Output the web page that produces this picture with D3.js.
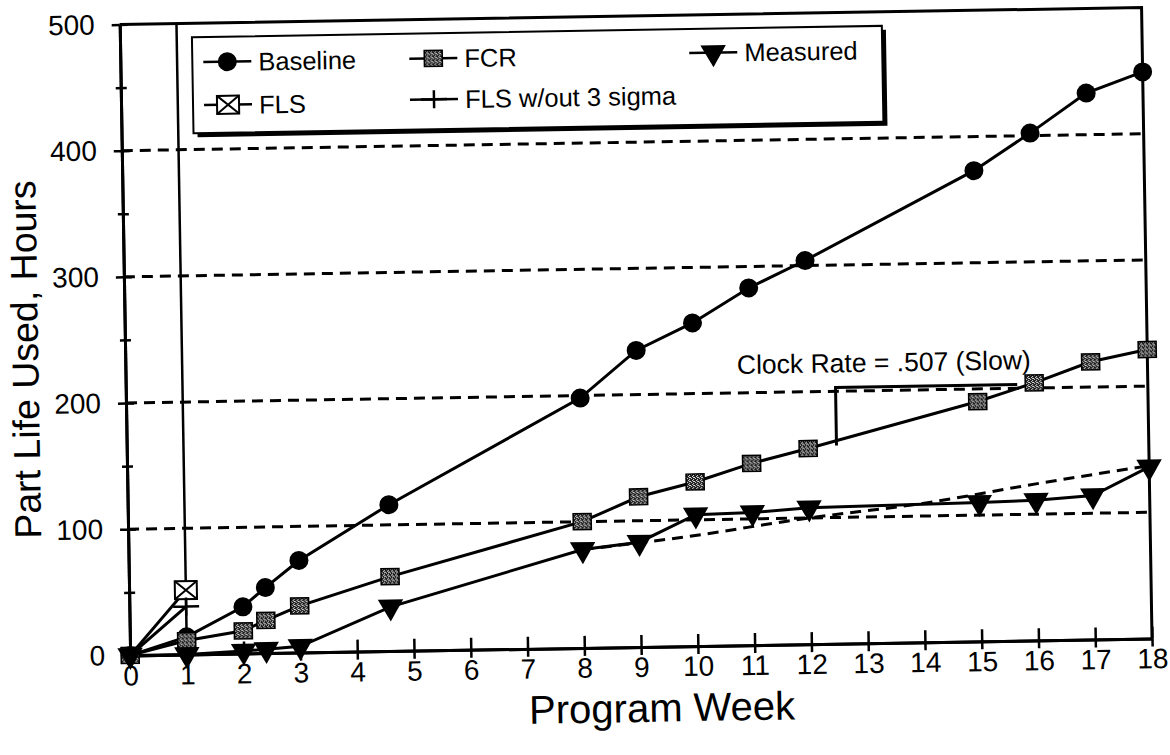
<!DOCTYPE html>
<html>
<head>
<meta charset="utf-8">
<script src="https://cdn.jsdelivr.net/npm/d3@7"></script>
<style>
  body { margin: 0; background: white; }
  svg text { font-family: "Liberation Sans", Arial, sans-serif; fill: black; }
</style>
</head>
<body>
<div id="visualization"></div>
<script>
let w = 1170;
let h = 755;

// values
let weeks    = [0, 1, 2, 2.4, 3, 4.6, 8, 9, 10, 11, 12, 15, 16, 17, 18];
let baseline = [0, 14, 37, 52, 73, 116, 198, 235, 256, 283, 304, 373, 402, 433, 449];
let fcr      = [0, 11, 18, 26, 37, 59, 100, 119, 130, 144, 155, 190, 204, 220, 229];
let measured = [0, 0, 2, 3, 5, 35, 78, 83, 104, 105, 108, 110, 111, 114, 136];

let flsWeeks   = [0, 1];
let fls        = [0, 51];
let flsNoSigma = [0, 38];

// dashed trend through the measured points
let trendWeeks = [8, 9.7, 12, 14, 16, 18];
let trend      = [78, 86, 100, 110, 124, 137];

// clock rate bracket
let clockWeeks  = [12.5, 12.5, 15.7];
let clockValues = [157, 203, 203];
let clockLabel = "Clock Rate = .507 (Slow)";

let xTicks = [0, 1, 2, 3, 4, 5, 6, 7, 8, 9, 10, 11, 12, 13, 14, 15, 16, 17, 18];
let yTicks = [0, 100, 200, 300, 400, 500];
let yMinorTicks = [50, 150, 250, 350, 450];
let gridValues = [100, 200, 300, 400];

let legendLabels = ["Baseline", "FCR", "Measured", "FLS", "FLS w/out 3 sigma"];

let svg = d3.select("#visualization")
  .append("svg")
  .attr("width", w)
  .attr("height", h)
  .style("background-color", "white");

// speckled fill for the FCR squares
let pat = svg.append("defs").append("pattern")
  .attr("id", "speckle")
  .attr("width", 4).attr("height", 4)
  .attr("patternUnits", "userSpaceOnUse");
pat.append("rect").attr("width", 4).attr("height", 4).attr("fill", "#1a1a1a");
[[0, 0], [2, 1], [1, 2], [3, 3], [2, 3]].forEach(p => {
  pat.append("rect").attr("x", p[0]).attr("y", p[1]).attr("width", 1).attr("height", 1).attr("fill", "#e8e8e8");
});

// the scanned page sits slightly tilted
let viz = svg.append("g").attr("transform", "rotate(-0.95, 635, 340)");

let xScale = d3.scaleLinear().domain([0, 18]).range([125, 1147]);
let yScale = d3.scaleLinear().domain([0, 500]).range([647, 16]);

// dashed gridlines
viz.selectAll(".grid").data(gridValues).enter()
  .append("line")
  .attr("class", "grid")
  .attr("x1", xScale(0)).attr("x2", xScale(18))
  .attr("y1", d => yScale(d)).attr("y2", d => yScale(d))
  .attr("stroke", "black")
  .attr("stroke-width", 3)
  .attr("stroke-dasharray", "11,7");

// frame top and right
viz.append("path")
  .attr("d", d3.line()([[xScale(0), yScale(500)], [xScale(18), yScale(500)], [xScale(18), yScale(0)]]))
  .attr("fill", "none")
  .attr("stroke", "black")
  .attr("stroke-width", 3);

function styleAxis(g, size) {
  g.attr("font-family", null);
  g.select(".domain").attr("stroke-width", 3);
  g.selectAll(".tick line").attr("stroke-width", 2.5);
  g.selectAll("text").attr("font-size", size);
}

// y axis, ticks cross the line
let yAxisGroup = viz.append("g").attr("transform", `translate(${xScale(0)},0)`);
yAxisGroup.call(d3.axisLeft(yScale).tickValues(yTicks).tickSize(8).tickSizeOuter(0).tickPadding(17));
styleAxis(yAxisGroup, 28);
viz.append("g").attr("transform", `translate(${xScale(0)},0)`)
  .call(d3.axisRight(yScale).tickValues(yTicks).tickSize(8).tickSizeOuter(0).tickFormat(""))
  .call(g => styleAxis(g, 28));
viz.append("g").attr("transform", `translate(${xScale(0) - 5},0)`)
  .call(d3.axisRight(yScale).tickValues(yMinorTicks).tickSize(11).tickSizeOuter(0).tickFormat(""))
  .call(g => { g.select(".domain").remove(); g.selectAll("line").attr("stroke-width", 2.5); });

// x axis
let xAxisGroup = viz.append("g").attr("transform", `translate(0,${yScale(0)})`);
xAxisGroup.call(d3.axisBottom(xScale).tickValues(xTicks).tickSize(8).tickSizeOuter(0).tickPadding(2));
styleAxis(xAxisGroup, 28);
viz.append("g").attr("transform", `translate(0,${yScale(0)})`)
  .call(d3.axisTop(xScale).tickValues(xTicks).tickSize(12).tickSizeOuter(0).tickFormat(""))
  .call(g => styleAxis(g, 28));

// axis titles
viz.append("text")
  .attr("x", (xScale(0) + xScale(18)) / 2 + 20)
  .attr("y", 722)
  .attr("text-anchor", "middle")
  .attr("font-size", 40)
  .text("Program Week");

viz.append("text")
  .attr("transform", `translate(38,${(yScale(0) + yScale(500)) / 2 + 18}) rotate(-90)`)
  .attr("text-anchor", "middle")
  .attr("font-size", 37.5)
  .text("Part Life Used, Hours");

// week 1 drop line
viz.append("line")
  .attr("x1", xScale(1)).attr("x2", xScale(1))
  .attr("y1", yScale(0)).attr("y2", yScale(500))
  .attr("stroke", "black").attr("stroke-width", 2.5);

let line = d3.line().x(d => xScale(d[0])).y(d => yScale(d[1]));

function drawLine(xs, ys) {
  viz.append("path")
    .datum(d3.zip(xs, ys))
    .attr("d", line)
    .attr("fill", "none")
    .attr("stroke", "black")
    .attr("stroke-width", 3);
}

drawLine(flsWeeks, fls);
drawLine(flsWeeks, flsNoSigma);
drawLine(weeks, baseline);
drawLine(weeks, fcr);
drawLine(weeks, measured);
viz.append("path")
  .datum(d3.zip(trendWeeks, trend))
  .attr("d", d3.line().x(d => xScale(d[0])).y(d => yScale(d[1])).curve(d3.curveMonotoneX))
  .attr("fill", "none")
  .attr("stroke", "black")
  .attr("stroke-width", 3)
  .attr("stroke-dasharray", "11,7");
drawLine(clockWeeks, clockValues);

// markers
function circleMark(sel) {
  sel.append("circle").attr("r", 9.5).attr("fill", "black");
}
function squareMark(sel) {
  sel.append("rect").attr("x", -9).attr("y", -8).attr("width", 18).attr("height", 16)
    .attr("fill", "url(#speckle)").attr("stroke", "black").attr("stroke-width", 1.5);
}
function triangleMark(sel) {
  sel.append("path").attr("d", d3.symbol(d3.symbolTriangle, 280)())
    .attr("transform", "rotate(180)").attr("fill", "black");
}
function boxXMark(sel) {
  sel.append("rect").attr("x", -11).attr("y", -9).attr("width", 22).attr("height", 18)
    .attr("fill", "white").attr("stroke", "black").attr("stroke-width", 2);
  sel.append("path").attr("d", "M-11,-9L11,9M-11,9L11,-9").attr("stroke", "black").attr("stroke-width", 2);
}
function plusMark(sel) {
  sel.append("path").attr("d", "M-13,0H13M0,-9V9").attr("stroke", "black").attr("stroke-width", 2.5);
}

function drawMarks(xs, ys, fn) {
  viz.append("g").selectAll("g").data(d3.zip(xs, ys)).enter()
    .append("g")
    .attr("transform", d => `translate(${xScale(d[0])},${yScale(d[1])})`)
    .call(fn);
}

drawMarks(weeks, baseline, circleMark);
drawMarks(weeks, fcr, squareMark);
drawMarks(weeks, measured, triangleMark);
drawMarks(flsWeeks.slice(1), fls.slice(1), boxXMark);
drawMarks(flsWeeks.slice(1), flsNoSigma.slice(1), plusMark);

viz.append("text")
  .attr("x", xScale(10.77))
  .attr("y", yScale(215))
  .attr("font-size", 26.5)
  .text(clockLabel);

// legend
let legend = viz.append("g").attr("transform", "translate(197,30)");
legend.append("rect").attr("x", 4).attr("y", 4).attr("width", 690).attr("height", 96).attr("fill", "black");
legend.append("rect").attr("width", 690).attr("height", 96)
  .attr("fill", "white").attr("stroke", "black").attr("stroke-width", 2);

let legendPos = [[35, 25], [241, 25], [521, 24], [35, 68], [241, 66]];
let legendMarks = [circleMark, squareMark, triangleMark, boxXMark, plusMark];

let items = legend.selectAll(".item").data(legendLabels).enter()
  .append("g")
  .attr("class", "item")
  .attr("transform", (d, i) => `translate(${legendPos[i][0]},${legendPos[i][1]})`);
items.append("line").attr("x1", -24).attr("x2", 24)
  .attr("stroke", "black").attr("stroke-width", 2.5);
items.each(function(d, i) { d3.select(this).call(legendMarks[i]); });
items.append("text")
  .attr("x", 31)
  .attr("dy", "0.36em")
  .attr("font-size", 25.5)
  .text(d => d);
</script>
</body>
</html>
